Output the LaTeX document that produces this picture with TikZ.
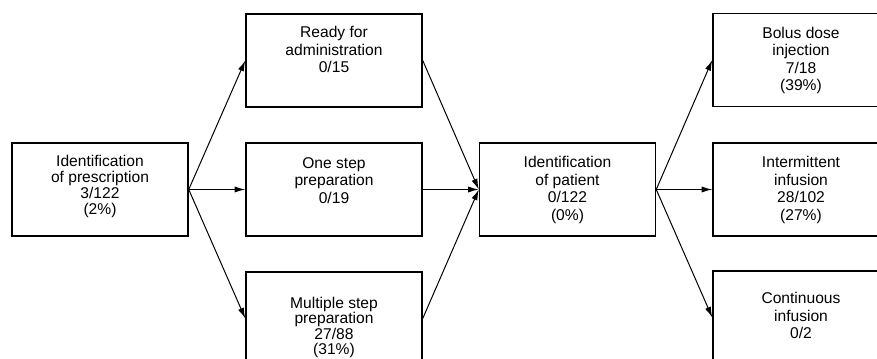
\documentclass[tikz,border=0pt]{standalone}
\usepackage{fontspec}
\setmainfont{Liberation Sans}
\usetikzlibrary{arrows.meta}

\tikzset{
  stage/.style={draw,rectangle,line width=1.1pt,minimum width=132pt,minimum height=69.75pt,inner sep=0pt},
  stagetxt/.style={anchor=north,align=center,inner sep=0pt,font=\fontsize{11.7}{13.2}\selectfont,yshift=#1},
  stagetxt/.default=-9.6pt,
  flow/.style={line width=0.75pt,-{Latex[length=8pt,width=4.6pt]}}
}

\begin{document}
\begin{tikzpicture}[x=0.75pt,y=-0.75pt]
\useasboundingbox (0,0) rectangle (877,359);
\clip (0,0) rectangle (877,359);
\node[stage,label={[stagetxt,font=\fontsize{11.7}{12}\selectfont]north:Identification\\of prescription\\3/122\\(2\%)}] (P1) at (100,189.5) {};
\node[stage,label={[stagetxt]north:Ready for\\administration\\0/15}] (P2) at (334,60.5) {};
\node[stage,label={[stagetxt=-11pt]north:One step\\preparation\\0/19}] (P3) at (334,189.5) {};
\node[stage,label={[stagetxt=-19pt,font=\fontsize{11.7}{11.7}\selectfont]north:Multiple step\\preparation\\27/88\\(31\%)}] (P4) at (334,318.5) {};
\node[stage,label={[stagetxt=-10.3pt]north:Identification\\of patient\\0/122\\(0\%)}] (P5) at (567.5,189.5) {};
\node[stage,label={[stagetxt=-10.3pt]north:Bolus dose\\injection\\7/18\\(39\%)}] (P6) at (801,60) {};
\node[stage,label={[stagetxt=-10.3pt]north:Intermittent\\infusion\\28/102\\(27\%)}] (P7) at (801,189.5) {};
\node[stage,label={[stagetxt=-16.3pt]north:Continuous\\infusion\\0/2}] (P8) at (801,317.5) {};
%%%%%%%%%%%%%%%%%%%%%%%%%%%%%%
\draw[flow] (P1.east) -- (P2.west);
\draw[flow] (P1.east) -- (P3.west);
\draw[flow] (P1.east) -- (P4.west);
\draw[flow] (P2.east) -- (P5.west);
\draw[flow] (P3.east) -- (P5.west);
\draw[flow] (P4.east) -- (P5.west);
\draw[flow] (P5.east) -- (P6.west);
\draw[flow] (P5.east) -- (P7.west);
\draw[flow] (P5.east) -- (P8.west);
\end{tikzpicture}
\end{document}
